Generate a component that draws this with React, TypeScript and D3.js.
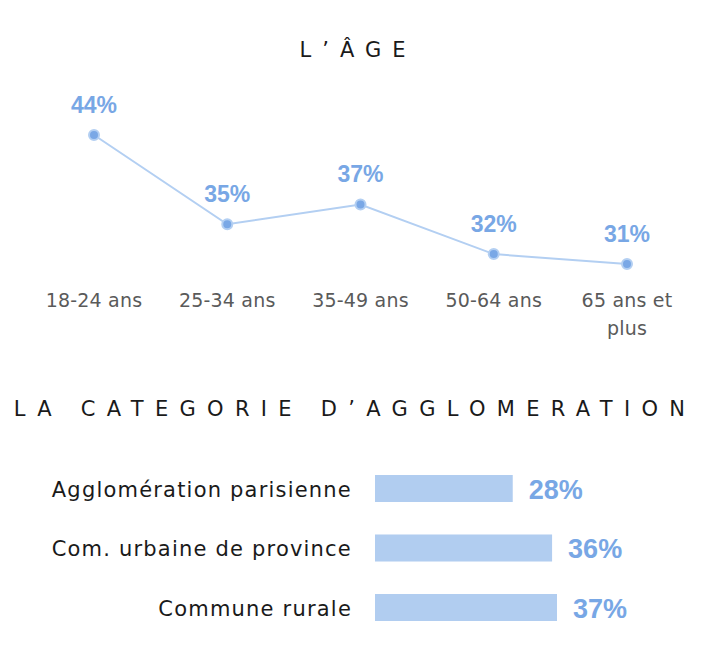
import * as d3 from 'd3';

// age line chart
const ageGroups = ['18-24 ans', '25-34 ans', '35-49 ans', '50-64 ans', '65 ans et plus'];
const ageLabels = [['18-24 ans'], ['25-34 ans'], ['35-49 ans'], ['50-64 ans'], ['65 ans et', 'plus']];
const ageValues = [44, 35, 37, 32, 31];

// agglomeration bar chart
const agglos = ['Agglomération parisienne', 'Com. urbaine de province', 'Commune rurale'];
const aggloValues = [28, 36, 37];

const W = 705;
const H = 656;
const valueColor = '#78a7e5';
const lineColor = '#b3cff2';
const barColor = '#b1cdf0';
const labelFont = '"DejaVu Sans", sans-serif';
const boldFont = '"Liberation Sans", Arial, sans-serif';

const App = () => {
  const x = d3.scalePoint<string>().domain(ageGroups).range([94, 627]);
  const y = d3.scaleLinear().domain([31, 44]).range([264, 135]);

  const line = d3
    .line<number>()
    .x((d, i) => x(ageGroups[i])!)
    .y((d) => y(d));

  const bx = d3.scaleLinear().domain([0, 37]).range([375, 557]);
  const by = d3
    .scaleBand<string>()
    .domain(agglos)
    .range([458.75, 637.25])
    .paddingInner(0.546)
    .paddingOuter(0.273);

  return (
    <svg
      width={W}
      height={H}
      style={{ position: 'absolute', left: 0, top: 0, display: 'block', background: '#fff' }}
    >
      <text
        x={358}
        y={57}
        textAnchor="middle"
        fontFamily={labelFont}
        fontSize={21}
        letterSpacing={11}
        fill="#1a1a1a"
      >
        L’ÂGE
      </text>

      <path d={line(ageValues) ?? ''} fill="none" stroke={lineColor} strokeWidth={2} />
      {ageValues.map((v, i) => (
        <g key={ageGroups[i]}>
          <circle cx={x(ageGroups[i])} cy={y(v)} r={5} fill="#7aa8e6" stroke={lineColor} strokeWidth={2} />
          <text
            x={x(ageGroups[i])}
            y={y(v) - 22}
            textAnchor="middle"
            fontFamily={boldFont}
            fontWeight="bold"
            fontSize={23}
            fill={valueColor}
          >
            {v}%
          </text>
        </g>
      ))}
      {ageLabels.map((lines, i) => (
        <text
          key={ageGroups[i]}
          x={x(ageGroups[i])}
          y={307}
          textAnchor="middle"
          fontFamily={labelFont}
          fontSize={19}
          letterSpacing={0.2}
          fill="#5a5a5a"
        >
          {lines.map((l, j) => (
            <tspan key={l} x={x(ageGroups[i])} dy={j === 0 ? 0 : 28}>
              {l}
            </tspan>
          ))}
        </text>
      ))}

      <text
        x={355}
        y={416}
        textAnchor="middle"
        fontFamily={labelFont}
        fontSize={21}
        letterSpacing={11.3}
        fill="#1a1a1a"
      >
        LA CATEGORIE D’AGGLOMERATION
      </text>

      {agglos.map((a, i) => {
        const yy = by(a)!;
        const cy = yy + by.bandwidth() / 2;
        return (
          <g key={a}>
            <rect x={bx(0)} y={yy} width={bx(aggloValues[i]) - bx(0)} height={by.bandwidth()} fill={barColor} />
            <text
              x={352}
              y={cy + 8}
              textAnchor="end"
              fontFamily={labelFont}
              fontSize={21}
              letterSpacing={1.2}
              fill="#1a1a1a"
            >
              {a}
            </text>
            <text
              x={bx(aggloValues[i]) + 16}
              y={cy + 10}
              fontFamily={boldFont}
              fontWeight="bold"
              fontSize={27}
              fill={valueColor}
            >
              {aggloValues[i]}%
            </text>
          </g>
        );
      })}
    </svg>
  );
};

export default App;
